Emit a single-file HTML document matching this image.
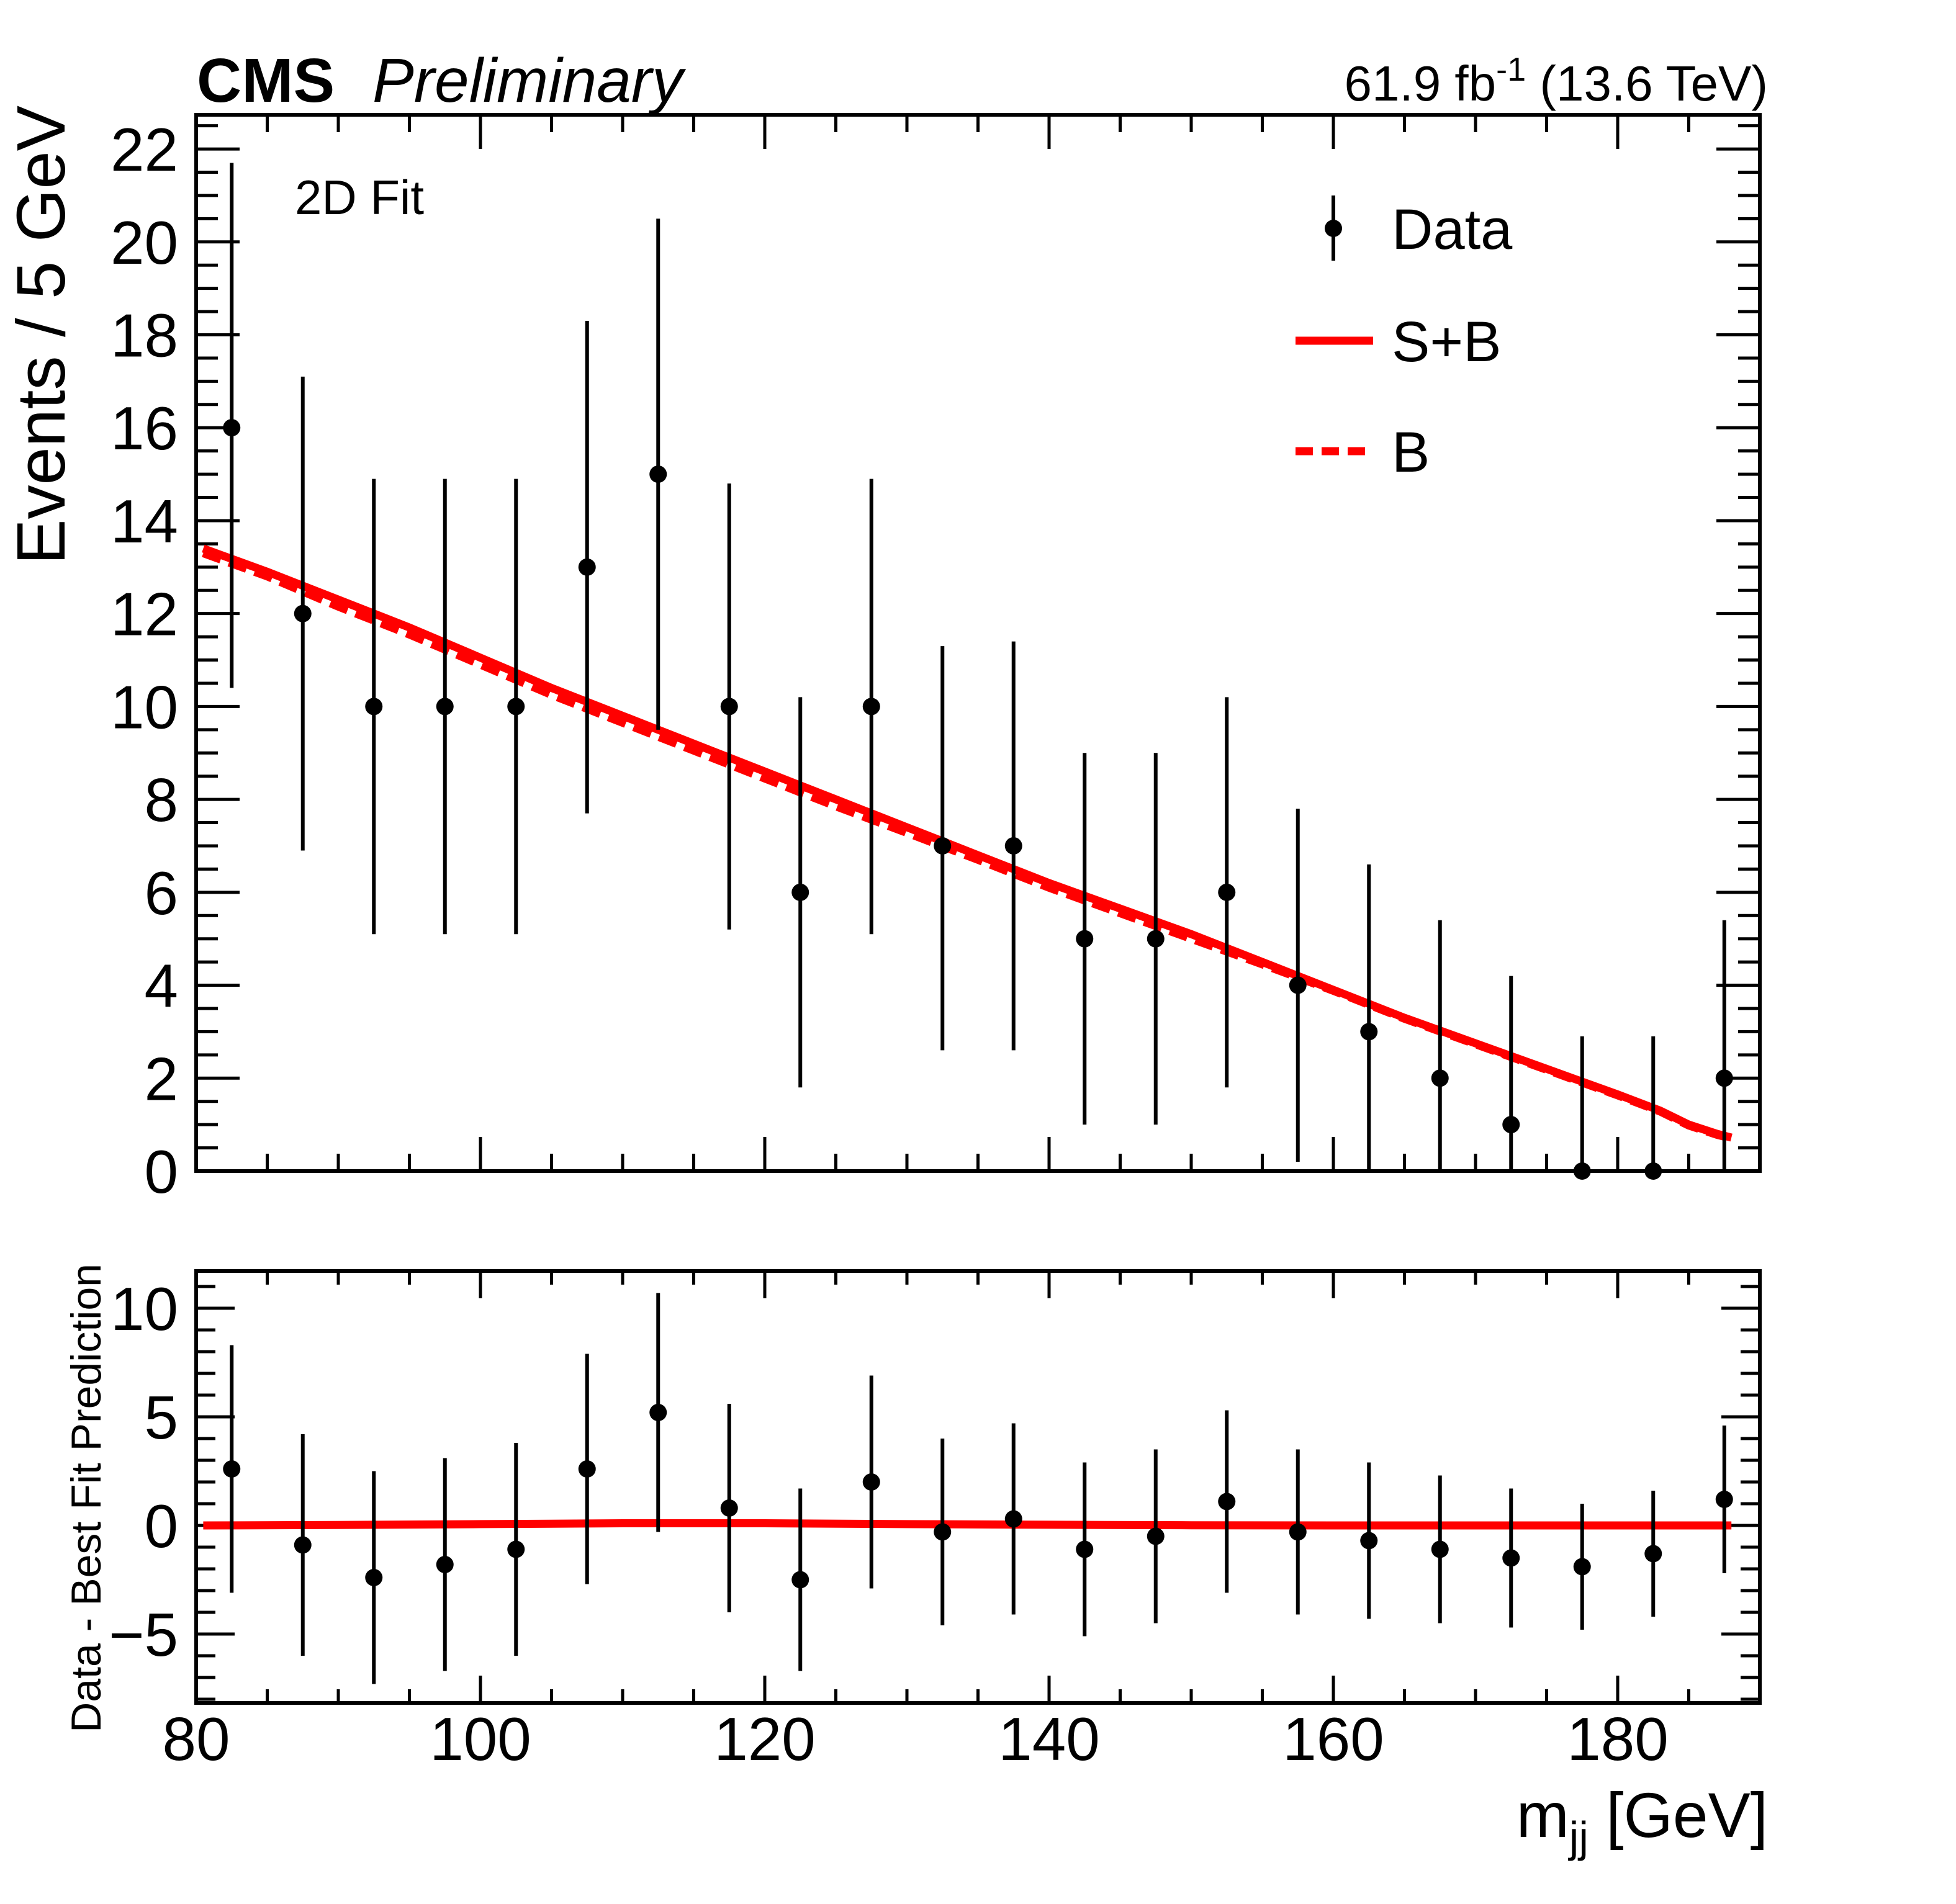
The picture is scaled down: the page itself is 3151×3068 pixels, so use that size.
<!DOCTYPE html>
<html><head><meta charset="utf-8"><style>
html,body{margin:0;padding:0;background:#fff;}
svg{display:block;font-family:"Liberation Sans",Arial,sans-serif;}
</style></head><body>
<svg id="c" width="3151" height="3068" viewBox="0 0 3151 3068" xmlns="http://www.w3.org/2000/svg"></svg>
<script>
const centers=[82.5,87.5,92.5,97.5,102.5,107.5,112.5,117.5,122.5,127.5,132.5,137.5,142.5,147.5,152.5,157.5,162.5,167.5,172.5,177.5,182.5,187.5];
const counts=[16,12,10,10,10,13,15,10,6,10,7,7,5,5,6,4,3,2,1,0,0,2];
const errLow=[10.4,6.9,5.1,5.1,5.1,7.7,9.5,5.2,1.8,5.1,2.6,2.6,1.0,1.0,1.8,0.2,0,0,0,0,0,0];
const errHigh=[21.7,17.1,14.9,14.9,14.9,18.3,20.5,14.8,10.2,14.9,11.3,11.4,9.0,9.0,10.2,7.8,6.6,5.4,4.2,2.9,2.9,5.4];
const fitX=[80.5,85,90,95,100,105,110,115,120,125,130,135,140,145,150,155,160,165,170,175,180,183,185,187,188];
const fitSB=[13.4,12.9,12.3,11.7,11.05,10.4,9.8,9.2,8.6,8.0,7.4,6.8,6.2,5.65,5.1,4.5,3.9,3.3,2.75,2.2,1.65,1.3,1.0,0.8,0.72];
const fitB=[13.3,12.8,12.15,11.55,10.9,10.25,9.65,9.05,8.45,7.85,7.28,6.7,6.1,5.55,5.0,4.45,3.88,3.28,2.73,2.18,1.63,1.28,0.98,0.78,0.7];
const resid=[2.6,-0.9,-2.4,-1.8,-1.1,2.6,5.2,0.8,-2.5,2.0,-0.3,0.3,-1.1,-0.5,1.1,-0.3,-0.7,-1.1,-1.5,-1.9,-1.3,1.2];
const residLineX=[80.5,90,100,110,120,130,140,150,160,170,180,188];
const residLineY=[0.0,0.02,0.06,0.1,0.1,0.06,0.03,0.01,0,0,0,0];
const xTicks=[80,100,120,140,160,180];
const yTicks=[0,2,4,6,8,10,12,14,16,18,20,22];
const rTicks=[-5,0,5,10];

const S='http://www.w3.org/2000/svg', svg=document.getElementById('c');
const XL=316,XR=2835, UT=185,UB=1887, LT=2048,LB=2744;
const xs=v=>XL+(v-80)*(XR-XL)/110;
const ys=v=>UB-v*74.86;
const yr=v=>2458-v*35;
function el(t,a,p){const e=document.createElementNS(S,t);for(const k in a)e.setAttribute(k,a[k]);(p||svg).appendChild(e);return e;}
function line(x1,y1,x2,y2,w,c,p){return el('line',{x1,y1,x2,y2,stroke:c||'#000','stroke-width':w||5},p);}
function txt(s,x,y,sz,anc,p,extra){const t=el('text',Object.assign({x,y,'font-size':sz,'text-anchor':anc||'start',fill:'#000'},extra||{}),p);t.textContent=s;return t;}

function frame(top,bot,yfun,ymin,ymax,minor,major,xmaj,xmin,ymajL,yminL,name){
  const g=el('g',{});
  
  
  for(let v=80;v<=190.001;v+=5){const X=xs(v);const m=(v%20===0);const L=m?xmaj:xmin;
    line(X,bot,X,bot-L,5,'#000',g);line(X,top,X,top+L,5,'#000',g);}
  for(let v=Math.ceil(ymin/minor)*minor;v<=ymax;v+=minor){const Y=yfun(v);const m=Math.abs(v/major-Math.round(v/major))<1e-6;const L=m?ymajL:yminL;
    line(XL,Y,XL+L,Y,5,'#000',g);line(XR,Y,XR-L,Y,5,'#000',g);}
  el('rect',{x:XL,y:top,width:XR-XL,height:bot-top,fill:'none',stroke:'#000','stroke-width':6},g);
}
frame(UT,UB,ys,0,22.7,0.5,2,55,28,70,35,'main-frame');
frame(LT,LB,yr,-8.1,11.7,1,5,44,22,62,31,'ratio-frame');

yTicks.forEach(v=>{const t=txt(String(v),287,ys(v)+35,98,'end');});
rTicks.forEach(v=>{const t=txt(v<0?'\u2212'+Math.abs(v):String(v),287,yr(v)+35,98,'end');});
xTicks.forEach(v=>{const t=txt(String(v),xs(v),2836,98,'middle');});

function pathOf(xa,ya,yf){return xa.map((x,i)=>(i?'L':'M')+xs(x).toFixed(1)+' '+yf(ya[i]).toFixed(1)).join(' ');}
const pb=el('path',{d:pathOf(fitX,fitB,ys),fill:'none',stroke:'#f00','stroke-width':13,'stroke-dasharray':'30 14'});

const psb=el('path',{d:pathOf(fitX,fitSB,ys),fill:'none',stroke:'#f00','stroke-width':13});

const pr=el('path',{d:pathOf(residLineX,residLineY,yr),fill:'none',stroke:'#f00','stroke-width':13});


centers.forEach((c,i)=>{
  const X=xs(c);
  const g=el('g',{});
  
  
  line(X,ys(errLow[i]),X,ys(errHigh[i]),6,'#000',g);
  el('circle',{cx:X,cy:ys(counts[i]),r:14,fill:'#000'},g);
  const g2=el('g',{});
  
  
  const e=errHigh[i]-counts[i];
  line(X,yr(resid[i]-e),X,yr(resid[i]+e),6,'#000',g2);
  el('circle',{cx:X,cy:yr(resid[i]),r:14,fill:'#000'},g2);
});

let t=txt('CMS',317,164,100,'start',svg,{'font-weight':'bold'});
t=txt('Preliminary',600,164,100,'start',svg,{'font-style':'italic'});
t=el('text',{x:2848,y:162,'font-size':80,'text-anchor':'end'});t.innerHTML='61.9 fb<tspan dy="-32" font-size="54">-1</tspan><tspan dy="32"> (13.6 TeV)</tspan>';

t=txt('2D Fit',475,345,78);

t=txt('Events / 5 GeV',0,0,110,'end',svg,{transform:'translate(104,170) rotate(-90)'});
t=txt('Data - Best Fit Prediction',0,0,68,'end',svg,{transform:'translate(162,2036) rotate(-90)'});
t=el('text',{x:2848,y:2960,'font-size':102,'text-anchor':'end'});t.innerHTML='m<tspan dy="24" font-size="70">jj</tspan><tspan dy="-24"> [GeV]</tspan>';


const lg=el('g',{});
const e1=el('g',{},lg);
line(2148,315,2148,420,6,'#000',e1);el('circle',{cx:2148,cy:368,r:14,fill:'#000'},e1);txt('Data',2242,401,92,'start',e1);
const e2=el('g',{},lg);
line(2087,549,2212,549,13,'#f00',e2);txt('S+B',2242,582,92,'start',e2);
const e3=el('g',{},lg);
el('line',{x1:2087,y1:727,x2:2212,y2:727,stroke:'#f00','stroke-width':13,'stroke-dasharray':'28 14'},e3);txt('B',2242,760,92,'start',e3);
</script>
</body></html>
